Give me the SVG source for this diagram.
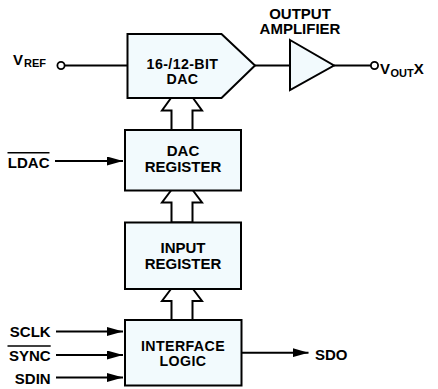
<svg xmlns="http://www.w3.org/2000/svg" width="438" height="389" viewBox="0 0 438 389">
<style>
text{font-family:"Liberation Sans",Arial,sans-serif;font-weight:bold;fill:#000}
.lbl{font-size:15px}
.tight{font-size:14.2px;letter-spacing:0.4px}
.sub{font-size:11px}
.mid{text-anchor:middle}
.end{text-anchor:end}
.box{fill:#F2FAFD;stroke:#000;stroke-width:2}
.wire{fill:none;stroke:#000;stroke-width:2}
.bus{fill:#fff;stroke:#000;stroke-width:2;stroke-linejoin:miter}
.pin{fill:#fff;stroke:#000;stroke-width:1.8}
.bar{stroke:#000;stroke-width:1.5}
</style>
<defs>
<marker id="ah" markerUnits="userSpaceOnUse" markerWidth="17" markerHeight="9" refX="16" refY="4.5" orient="auto">
<path d="M0,0 L16,4.5 L0,9 z" fill="#000"/>
</marker>
</defs>
<g id="connectors">
<line class="wire" x1="64.5" y1="65.5" x2="127.5" y2="65.5"/>
<line class="wire" x1="255" y1="65.5" x2="290" y2="65.5"/>
<line class="wire" x1="334" y1="65.5" x2="371" y2="65.5"/>
<path class="bus" d="M171,98 L162,110.5 L171.5,110.5 L171.5,130 L192.5,130 L192.5,110.5 L202,110.5 L193,98"/>
<path class="bus" d="M171,190.5 L162,202.5 L171.5,202.5 L171.5,222.5 L192.5,222.5 L192.5,202.5 L202,202.5 L193,190.5"/>
<path class="bus" d="M171,289 L162,301 L171.5,301 L171.5,320 L192.5,320 L192.5,301 L202,301 L193,289"/>
<line class="wire" x1="55" y1="161" x2="123" y2="161" marker-end="url(#ah)"/>
<line class="wire" x1="56" y1="331.5" x2="123" y2="331.5" marker-end="url(#ah)"/>
<line class="wire" x1="56" y1="355" x2="123" y2="355" marker-end="url(#ah)"/>
<line class="wire" x1="56" y1="377.5" x2="123" y2="377.5" marker-end="url(#ah)"/>
<line class="wire" x1="242" y1="352.7" x2="308.5" y2="352.7" marker-end="url(#ah)"/>
</g>
<g id="vref">
<text class="lbl" x="13" y="65">V<tspan class="sub" dx="1" dy="2">REF</tspan></text>
<circle class="pin" cx="61" cy="65.5" r="3.6"/>
</g>
<g id="dac">
<polygon class="box" points="127.5,34 221.5,34 255,65.5 221.5,98 127.5,98"/>
<text class="tight mid" x="182.5" y="69">16-/12-BIT</text>
<text class="tight mid" x="182.5" y="84">DAC</text>
</g>
<g id="amp">
<text class="lbl mid" x="300" y="18.5">OUTPUT</text>
<text class="lbl mid" x="300" y="34">AMPLIFIER</text>
<polygon class="box" points="290,40 334,65.5 290,90"/>
</g>
<g id="vout">
<circle class="pin" cx="374.5" cy="65.5" r="3.6"/>
<text class="lbl" x="380" y="74">V<tspan class="sub" dx="0.5" dy="2.5">OUT</tspan><tspan dy="-2.5">X</tspan></text>
</g>
<g id="dacreg">
<rect class="box" x="125" y="130" width="116" height="60.5"/>
<text class="lbl mid" x="183" y="155.7">DAC</text>
<text class="lbl mid" x="183" y="171.7">REGISTER</text>
</g>
<g id="inputreg">
<rect class="box" x="125" y="222.5" width="116" height="66.5"/>
<text class="lbl mid" x="183" y="252.7">INPUT</text>
<text class="lbl mid" x="183" y="269">REGISTER</text>
</g>
<g id="iface">
<rect class="box" x="125" y="320" width="116.5" height="65.5"/>
<text class="tight mid" x="183" y="350.5">INTERFACE</text>
<text class="tight mid" x="183" y="366">LOGIC</text>
</g>
<g id="ldac">
<text class="lbl end" x="49.5" y="168.3">LDAC</text>
<line class="bar" x1="7.5" y1="152.7" x2="49.5" y2="152.7"/>
</g>
<g id="sclk"><text class="lbl end" x="50.7" y="337.3">SCLK</text></g>
<g id="sync">
<text class="lbl end" x="50.7" y="360.7">SYNC</text>
<line class="bar" x1="7.5" y1="346" x2="50.7" y2="346"/>
</g>
<g id="sdin"><text class="lbl end" x="50.7" y="384">SDIN</text></g>
<g id="sdo"><text class="lbl" x="315" y="360">SDO</text></g>
</svg>
